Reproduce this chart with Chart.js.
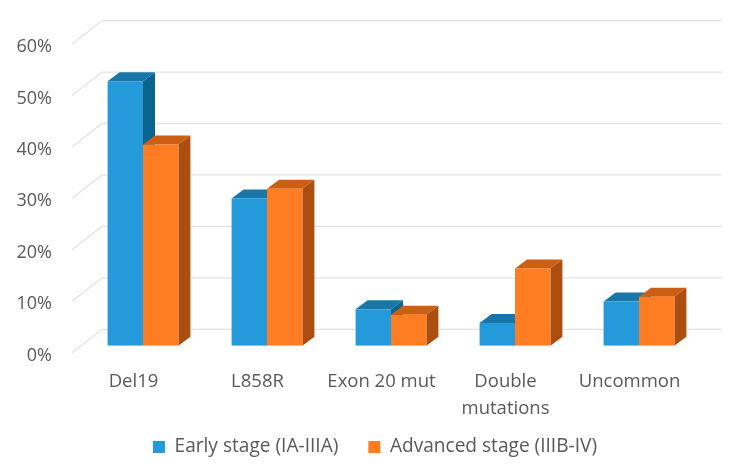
<!DOCTYPE html>
<html>
<head>
<meta charset="utf-8">
<script src="https://cdn.jsdelivr.net/npm/chart.js@4"></script>
<style>
  html, body { margin: 0; background: #fff; }
  canvas { display: block; }
</style>
</head>
<body>
<canvas id="chart" width="740" height="471"></canvas>
<script>
const categories = ['Del19', 'L858R', 'Exon 20 mut', ['Double', 'mutations'], 'Uncommon']
const earlyStage = [51.4, 28.6, 7.1, 4.4, 8.6]
const advancedStage = [39.1, 30.5, 6.0, 15.0, 9.5]
const seriesNames = ['Early stage (IA-IIIA)', 'Advanced stage (IIIB-IV)']
const yTicks = [0, 10, 20, 30, 40, 50, 60]

const TEXT_COLOR = '#595959'
const FONT_FAMILY = '"Open Sans"'
const FACES = [
  {front: '#259ADB', top: '#1877A8', side: '#0A6490'},
  {front: '#FE7C22', top: '#CC5F13', side: '#AB4E10'},
]
// fake 3d offsets
const BAR_DEPTH = {x: 12, y: -9}
const WALL_FRONT = {x: -9, y: 7}
const WALL_BACK = {x: 21, y: -16.4}

const fake3d = {
  id: 'fake3d',
  afterLayout(chart) {
    // legend sits lower and is centred on the whole canvas, not the padded area
    chart.legend.left += 24.5
    chart.legend.right += 24.5
    chart.legend.top = 407.4
  },
  beforeDatasetsDraw(chart) {
    const {ctx, chartArea, scales} = chart
    ctx.save()
    ctx.strokeStyle = '#E2E2E2'
    ctx.lineWidth = 1.3
    yTicks.forEach(v => {
      const y = scales.y.getPixelForValue(v)
      ctx.beginPath()
      ctx.moveTo(chartArea.left + WALL_FRONT.x, y + WALL_FRONT.y)
      ctx.lineTo(chartArea.left + WALL_BACK.x, y + WALL_BACK.y)
      ctx.lineTo(chartArea.right + WALL_BACK.x, y + WALL_BACK.y)
      ctx.stroke()
    })
    // tops and sides go under every front, blue first so orange covers it
    chart.data.datasets.forEach((ds, i) => {
      const {top, side} = FACES[i]
      chart.getDatasetMeta(i).data.forEach(bar => {
        const {x, y, base, width} = bar.getProps(['x', 'y', 'base', 'width'])
        const x0 = x - width / 2
        const x1 = x + width / 2
        ctx.fillStyle = top
        ctx.beginPath()
        ctx.moveTo(x0, y)
        ctx.lineTo(x0 + BAR_DEPTH.x, y + BAR_DEPTH.y)
        ctx.lineTo(x1 + BAR_DEPTH.x, y + BAR_DEPTH.y)
        ctx.lineTo(x1, y)
        ctx.fill()
        ctx.fillStyle = side
        ctx.beginPath()
        ctx.moveTo(x1, y)
        ctx.lineTo(x1 + BAR_DEPTH.x, y + BAR_DEPTH.y)
        ctx.lineTo(x1 + BAR_DEPTH.x, base + BAR_DEPTH.y)
        ctx.lineTo(x1, base)
        ctx.fill()
      })
    })
    ctx.restore()
  },
}

new Chart(document.getElementById('chart'), {
  type: 'bar',
  plugins: [fake3d],
  data: {
    labels: categories,
    datasets: [
      {label: seriesNames[0], data: earlyStage, backgroundColor: FACES[0].front},
      {label: seriesNames[1], data: advancedStage, backgroundColor: FACES[1].front},
    ],
  },
  options: {
    responsive: false,
    animation: false,
    categoryPercentage: 0.571,
    barPercentage: 1,
    layout: {padding: {top: 37, right: 39, left: 0, bottom: 0}},
    plugins: {
      tooltip: {enabled: false},
      legend: {
        position: 'bottom',
        maxHeight: 49.3,
        labels: {
          color: TEXT_COLOR,
          font: {family: FONT_FAMILY, size: 19.1},
          boxWidth: 12,
          boxHeight: 12,
          padding: 30,
        },
      },
    },
    scales: {
      x: {
        grid: {display: false, drawTicks: false},
        border: {display: false},
        afterFit: scale => {
          scale.height = 76
          scale.paddingLeft = 0
          scale.paddingRight = 0
        },
        ticks: {
          color: TEXT_COLOR,
          font: {family: FONT_FAMILY, size: 18.5, lineHeight: 1.43},
          padding: 23,
          labelOffset: -9.5,
          autoSkip: false,
          minRotation: 0,
          maxRotation: 0,
        },
      },
      y: {
        min: 0,
        max: 60,
        grid: {display: false, drawTicks: false},
        border: {display: false},
        afterFit: scale => {
          scale.width = 81
          scale.paddingTop = 0
          scale.paddingBottom = 0
        },
        ticks: {
          color: TEXT_COLOR,
          font: {family: FONT_FAMILY, size: 18},
          stepSize: 10,
          padding: 29,
          labelOffset: 10,
          callback: v => v + '%',
        },
      },
    },
  },
})
</script>
</body>
</html>
